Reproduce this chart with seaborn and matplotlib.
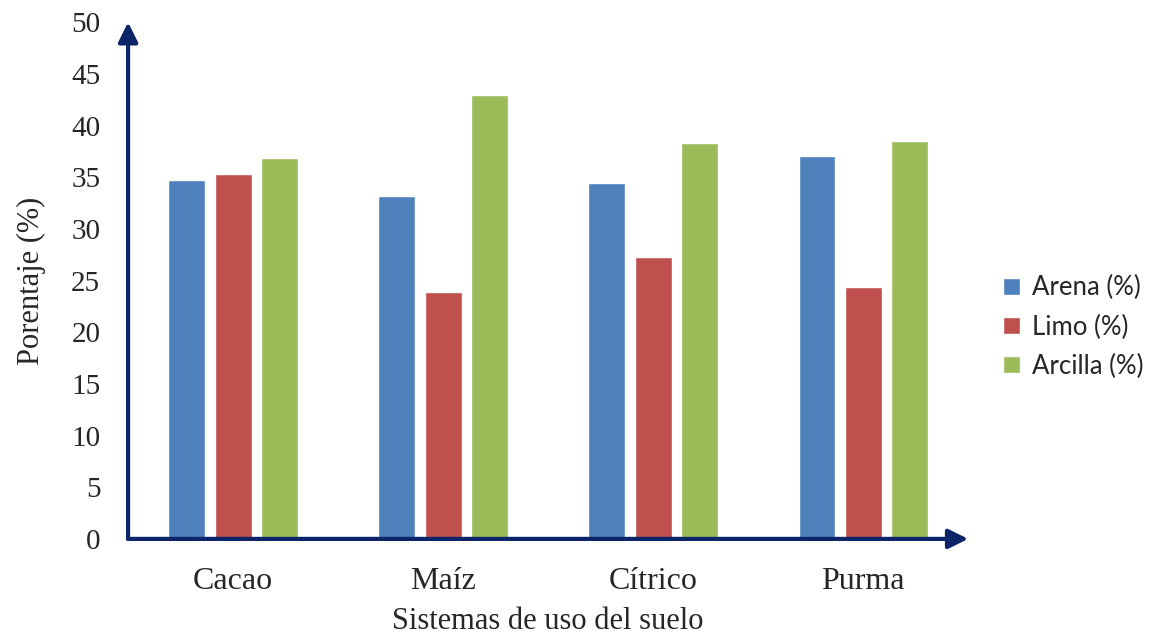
import numpy as np
import pandas as pd
import matplotlib
matplotlib.use("Agg")
from matplotlib import pyplot as plt
import seaborn as sns

# datos
sistemas = ["Cacao", "Maíz", "Cítrico", "Purma"]
arena = [34.7, 33.2, 34.4, 37.1]
limo = [35.3, 23.9, 27.3, 24.4]
arcilla = [36.9, 43.0, 38.3, 38.5]
series = ["Arena (%)", "Limo (%)", "Arcilla (%)"]
colores = ["#4f81bd", "#c0504d", "#9bbb59"]

df = pd.DataFrame({"sistema": sistemas * 3,
                   "serie": [s for s in series for _ in sistemas],
                   "valor": arena + limo + arcilla})

sns.set_style("white")
plt.rcParams['font.family'] = ['Liberation Serif', 'DejaVu Serif']

fig = plt.figure(figsize=(11.54, 6.34), dpi=100)
ax = fig.add_axes([0.111, 0.150, 0.728, 0.815])

sns.barplot(data=df, x="sistema", y="valor", hue="serie", palette=colores,
            width=0.66, gap=0.2, ax=ax, saturation=1, legend=True)

ax.set_ylim(0, 50)
ax.set_xlim(-0.5, 3.5)
ax.set_yticks(np.arange(0, 51, 5))
ax.tick_params(axis="y", labelsize=21, length=0, pad=20)
ax.tick_params(axis="x", labelsize=23, length=0, pad=20)
ax.set_xlabel("Sistemas de uso del suelo", fontsize=22, labelpad=8)
ax.set_ylabel("Porentaje (%)", fontsize=22, labelpad=18)
for s in ax.spines.values():
    s.set_visible(False)

# ejes con flechas
navy = "#0c2468"
flecha = dict(arrowstyle="-|>,head_length=0.85,head_width=0.42",
              mutation_scale=14, color=navy, lw=3, shrinkA=0, shrinkB=0)
ax.annotate("", xy=(0, 1.0), xytext=(0, 0), xycoords="axes fraction",
            arrowprops=flecha)
ax.annotate("", xy=(1.0, 0), xytext=(0, 0), xycoords="axes fraction",
            arrowprops=flecha)

leg = ax.legend(loc="center left", bbox_to_anchor=(1.042, 0.41), frameon=False,
                borderpad=0, borderaxespad=0,
                prop={"family": "Lato", "size": 18.5}, handlelength=0.65,
                handleheight=0.65, handletextpad=0.45, labelspacing=0.55)

fig.savefig("out.png", dpi=100)
